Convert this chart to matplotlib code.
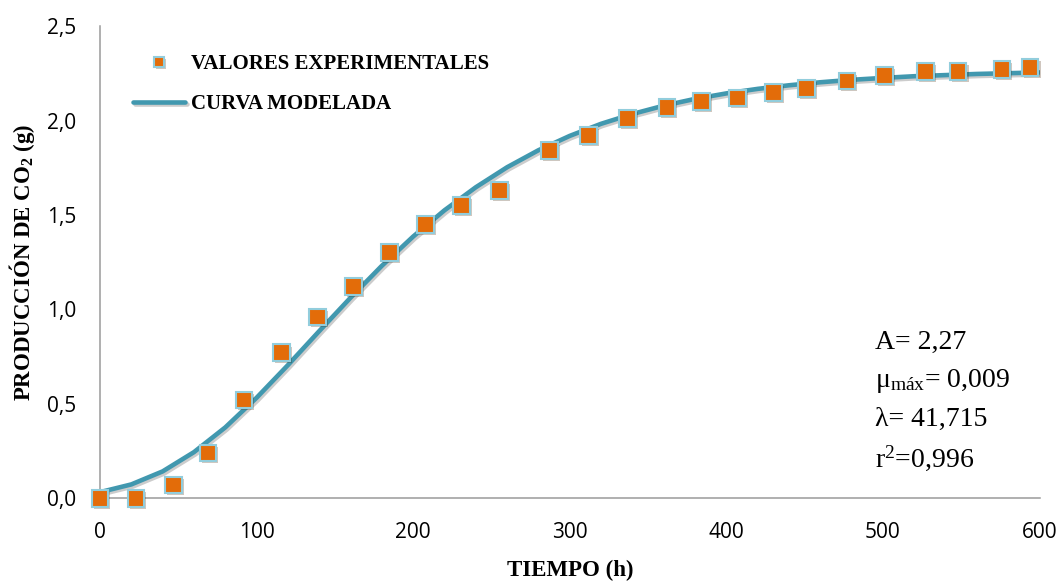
import numpy as np
import matplotlib
matplotlib.use('Agg')
import matplotlib.pyplot as plt
import matplotlib.ticker as mtick
import matplotlib.patheffects as pe

t_exp = [0, 23, 47, 69, 92, 116, 139, 162, 185, 208, 231, 255, 287, 312, 337,
         362, 384, 407, 430, 451, 477, 501, 527, 548, 576, 594]
co2_exp = [0.0, 0.0, 0.07, 0.24, 0.52, 0.77, 0.96, 1.12, 1.30, 1.45, 1.55, 1.63,
           1.84, 1.92, 2.01, 2.07, 2.10, 2.12, 2.15, 2.17, 2.21, 2.24, 2.26,
           2.26, 2.27, 2.28]

# modelled curve
t_mod = [0, 20, 40, 60, 80, 100, 120, 140, 160, 180, 200, 220, 240, 260, 280,
         300, 320, 340, 360, 380, 400, 420, 440, 460, 480, 500, 520, 540, 560,
         580, 600]
co2_mod = [0.032, 0.073, 0.142, 0.244, 0.375, 0.532, 0.705, 0.885, 1.062, 1.231,
           1.386, 1.525, 1.647, 1.753, 1.843, 1.919, 1.983, 2.035, 2.079, 2.115,
           2.144, 2.168, 2.187, 2.203, 2.216, 2.226, 2.235, 2.241, 2.247, 2.251,
           2.255]

params = ['A= 2,27', 'μ$_{\\mathrm{máx}}$= 0,009', 'λ= 41,715', 'r$^{2}$=0,996']

plt.rcParams['mathtext.fontset'] = 'custom'
plt.rcParams['mathtext.rm'] = 'Liberation Serif'
plt.rcParams['mathtext.it'] = 'Liberation Serif:italic'
plt.rcParams['mathtext.bf'] = 'Liberation Serif:bold'

orange = '#E36C09'
edge = '#92CDDC'
teal = '#4198AF'
line_shadow = [pe.SimpleLineShadow(offset=(1.2, -1.5), alpha=0.2), pe.Normal()]
mark_shadow = [pe.SimplePatchShadow(offset=(1.5, -1.5), alpha=0.25), pe.Normal()]

fig = plt.figure(figsize=(10.64, 5.82), dpi=100)
ax = fig.add_axes([0.094, 0.144, 0.883, 0.811])

ax.plot(t_mod, co2_mod, color=teal, linewidth=3.3, solid_capstyle='round',
        solid_joinstyle='round', label='CURVA MODELADA', zorder=3,
        path_effects=line_shadow)
ax.plot(t_exp, co2_exp, linestyle='none', marker='s', markersize=12,
        markerfacecolor=orange, markeredgecolor=edge, markeredgewidth=1.5,
        label='VALORES EXPERIMENTALES', zorder=4, clip_on=False,
        path_effects=mark_shadow)

ax.set_xlim(0, 600)
ax.set_ylim(0, 2.5)
ax.set_xticks(np.arange(0, 601, 100))
ax.set_yticks(np.arange(0, 2.51, 0.5))
ax.yaxis.set_major_formatter(mtick.FuncFormatter(lambda v, p: f'{v:.1f}'.replace('.', ',')))

for s in ['top', 'right']:
    ax.spines[s].set_visible(False)
for s in ['left', 'bottom']:
    ax.spines[s].set_color('#9A9A9A')
    ax.spines[s].set_linewidth(1.1)
ax.tick_params(length=0, pad=17, labelsize=15)
for lab in ax.get_xticklabels() + ax.get_yticklabels():
    lab.set_family('Open Sans')

ax.set_xlabel('TIEMPO (h)', family='Liberation Serif', fontweight='bold',
              fontsize=16.5, labelpad=12)
ax.set_ylabel('PRODUCCIÓN DE CO$_{\\mathbf{2}}$ (g)', family='Liberation Serif',
              fontweight='bold', fontsize=16.5, labelpad=7)

h, l = ax.get_legend_handles_labels()
leg = ax.legend(h[::-1], l[::-1], loc='upper left', bbox_to_anchor=(0.1155, 0.925),
                bbox_transform=fig.transFigure, frameon=False, borderpad=0,
                handlelength=2.5, handletextpad=0.25, labelspacing=0.95,
                markerscale=0.6, prop={'family': 'Liberation Serif',
                                       'weight': 'bold', 'size': 15})

for i, s in enumerate(params):
    ax.text(0.825, 0.33 - i * 0.082, s, transform=ax.transAxes,
            family='Liberation Serif', fontsize=20, va='center', ha='left')

fig.savefig('out.png', dpi=100)
